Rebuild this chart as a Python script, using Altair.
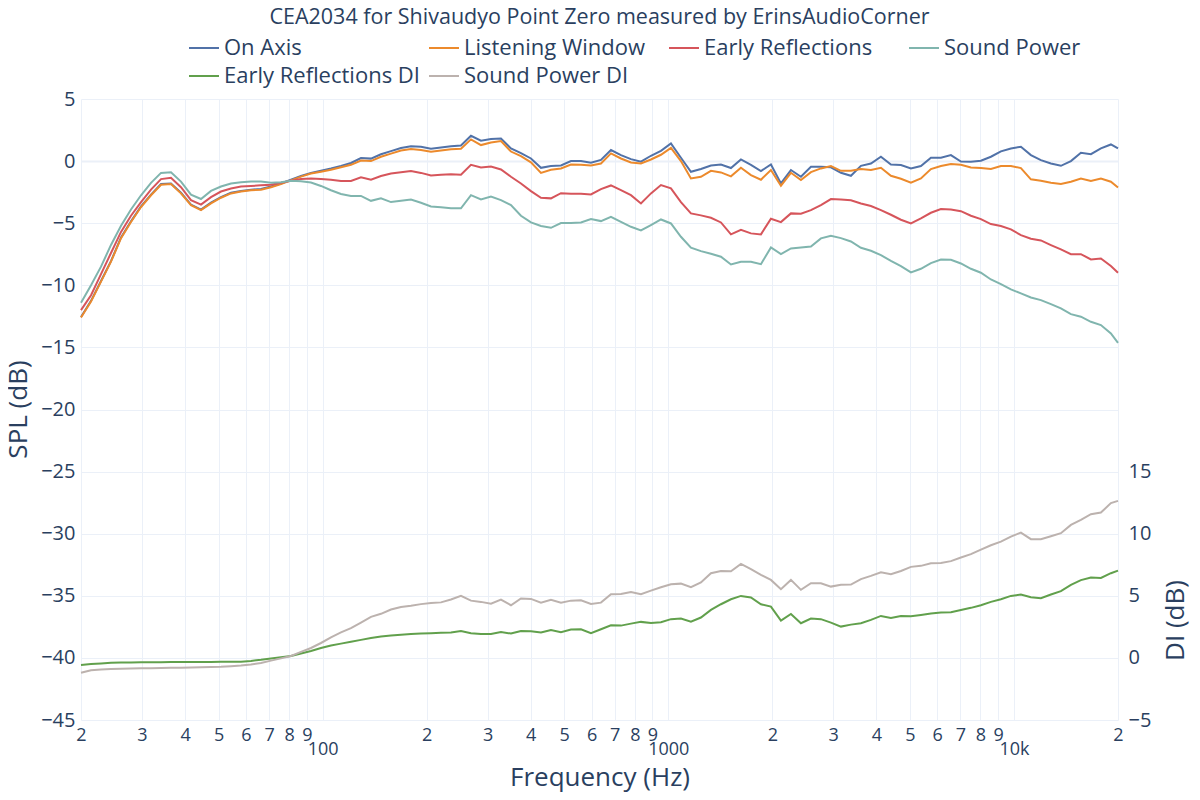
import altair as alt
import pandas as pd

# ---------------- data ----------------
FREQ = [
    20.0, 21.38, 22.85, 24.42, 26.11, 27.9, 29.83, 31.88, 34.08, 36.42,
    38.93, 41.61, 44.48, 47.54, 50.81, 54.31, 58.06, 62.05, 66.33, 70.9,
    75.78, 81.0, 86.58, 92.54, 98.91, 105.72, 113.0, 120.79, 129.11, 138.0,
    147.51, 157.67, 168.53, 180.14, 192.55, 205.81, 219.98, 235.13, 251.33, 268.64,
    287.15, 306.93, 328.07, 350.67, 374.81, 400.63, 428.22, 457.72, 489.25, 522.94,
    558.94, 597.44, 638.58, 682.57, 729.58, 779.83, 833.55, 890.96, 952.32, 1017.9,
    1088.0, 1162.9, 1243.0, 1328.7, 1420.2, 1518.0, 1622.5, 1734.3, 1853.7, 1981.4,
    2117.9, 2263.8, 2419.7, 2586.4, 2764.5, 2954.9, 3158.5, 3376.0, 3608.5, 3857.1,
    4122.6, 4406.6, 4710.1, 5034.5, 5381.2, 5751.9, 6148.0, 6571.5, 7024.1, 7507.9,
    8025.0, 8577.7, 9168.5, 9800.0, 10475, 11196, 11967, 12792, 13673, 14615,
    15621, 16697, 17847, 19076, 20000,
]

ON_AXIS = [
    -12.55, -11.25, -9.65, -8.05, -6.15, -4.85, -3.65, -2.7, -1.85, -1.8,
    -2.55, -3.5, -3.9, -3.35, -2.9, -2.55, -2.4, -2.3, -2.25, -2.05,
    -1.8, -1.5, -1.2, -0.95, -0.78, -0.6, -0.4, -0.15, 0.25, 0.2,
    0.55, 0.8, 1.05, 1.2, 1.15, 1.0, 1.1, 1.2, 1.25, 2.04,
    1.64, 1.77, 1.82, 1.02, 0.64, 0.21, -0.54, -0.4, -0.35, 0.0,
    0.0, -0.13, 0.1, 0.89, 0.48, 0.16, -0.05, 0.43, 0.83, 1.42,
    0.27, -0.86, -0.64, -0.35, -0.27, -0.56, 0.13, -0.3, -0.8, -0.27,
    -1.8, -0.72, -1.26, -0.46, -0.46, -0.5, -0.94, -1.18, -0.38, -0.19,
    0.35, -0.27, -0.32, -0.59, -0.4, 0.27, 0.27, 0.48, -0.03, -0.05,
    0.03, 0.35, 0.78, 1.02, 1.15, 0.48, 0.08, -0.19, -0.38, 0.0,
    0.67, 0.56, 1.02, 1.34, 1.02,
]

LISTENING_WINDOW = [
    -12.6, -11.3, -9.7, -8.1, -6.2, -4.9, -3.7, -2.75, -1.9, -1.85,
    -2.6, -3.55, -3.95, -3.4, -2.95, -2.6, -2.45, -2.35, -2.3, -2.1,
    -1.85, -1.55, -1.25, -1.0, -0.85, -0.7, -0.5, -0.3, 0.05, 0.0,
    0.35, 0.6, 0.85, 0.97, 0.9, 0.75, 0.85, 0.95, 1.0, 1.75,
    1.29, 1.5, 1.61, 0.77, 0.4, -0.1, -0.95, -0.7, -0.59, -0.27,
    -0.3, -0.35, -0.19, 0.62, 0.21, -0.11, -0.19, 0.13, 0.51, 1.07,
    0.0, -1.4, -1.26, -0.78, -0.91, -1.23, -0.54, -1.13, -1.5, -0.72,
    -1.98, -0.94, -1.53, -0.89, -0.59, -0.4, -0.78, -0.78, -0.64, -0.72,
    -0.54, -1.18, -1.42, -1.74, -1.4, -0.64, -0.4, -0.24, -0.3, -0.51,
    -0.56, -0.64, -0.4, -0.4, -0.56, -1.47, -1.58, -1.74, -1.85, -1.66,
    -1.4, -1.6, -1.4, -1.66, -2.12,
]

EARLY_REFLECTIONS = [
    -12.0, -10.8, -9.1, -7.4, -5.7, -4.4, -3.3, -2.3, -1.45, -1.35,
    -2.1, -3.15, -3.5, -2.9, -2.45, -2.2, -2.05, -2.0, -1.95, -1.9,
    -1.75, -1.58, -1.45, -1.4, -1.45, -1.5, -1.6, -1.6, -1.3, -1.5,
    -1.2, -1.0, -0.9, -0.8, -0.95, -1.15, -1.1, -1.05, -1.1, -0.3,
    -0.51, -0.43, -0.67, -1.26, -1.8, -2.42, -2.95, -3.0, -2.58, -2.63,
    -2.63, -2.68, -2.25, -1.96, -2.33, -2.74, -3.41, -2.6, -1.93, -2.2,
    -3.3, -4.21, -4.37, -4.56, -4.94, -5.9, -5.53, -5.82, -5.9, -4.64,
    -4.91, -4.21, -4.24, -3.95, -3.54, -3.06, -3.1, -3.16, -3.41, -3.62,
    -3.95, -4.32, -4.72, -5.02, -4.62, -4.16, -3.86, -3.89, -4.03, -4.4,
    -4.67, -5.07, -5.23, -5.5, -5.96, -6.25, -6.39, -6.76, -7.11, -7.49,
    -7.49, -7.92, -7.84, -8.45, -8.99,
]

SOUND_POWER = [
    -11.4, -10.0, -8.5, -6.75, -5.2, -3.9, -2.75, -1.75, -0.95, -0.9,
    -1.65, -2.7, -3.05, -2.4, -2.05, -1.8, -1.7, -1.65, -1.65, -1.75,
    -1.7, -1.58, -1.62, -1.72, -2.0, -2.35, -2.65, -2.8, -2.8, -3.2,
    -3.0, -3.3, -3.2, -3.1, -3.35, -3.65, -3.72, -3.8, -3.8, -2.74,
    -3.09, -2.85, -3.14, -3.54, -4.4, -4.94, -5.23, -5.37, -4.99, -4.99,
    -4.94, -4.67, -4.83, -4.48, -4.89, -5.29, -5.58, -5.15, -4.7, -5.02,
    -6.09, -6.97, -7.25, -7.46, -7.7, -8.32, -8.1, -8.1, -8.3, -6.95,
    -7.49, -7.03, -6.95, -6.87, -6.22, -6.01, -6.2, -6.47, -6.98, -7.22,
    -7.57, -8.03, -8.45, -8.96, -8.67, -8.21, -7.92, -7.95, -8.24, -8.67,
    -8.99, -9.53, -9.9, -10.33, -10.65, -10.98, -11.19, -11.51, -11.86, -12.32,
    -12.53, -12.94, -13.2, -13.87, -14.63,
]

ER_DI = [
    -0.58, -0.5, -0.45, -0.4, -0.38, -0.37, -0.36, -0.35, -0.35, -0.34,
    -0.34, -0.34, -0.33, -0.33, -0.32, -0.31, -0.3, -0.24, -0.15, -0.04,
    0.05, 0.15, 0.35, 0.55, 0.8, 1.0, 1.15, 1.3, 1.45, 1.6,
    1.72, 1.8, 1.87, 1.92, 1.96, 1.99, 2.02, 2.05, 2.17, 1.99,
    1.93, 1.93, 2.09, 1.96, 2.17, 2.15, 2.04, 2.25, 2.07, 2.28,
    2.31, 1.99, 2.31, 2.63, 2.6, 2.76, 2.9, 2.82, 2.87, 3.12,
    3.17, 2.92, 3.25, 3.86, 4.32, 4.72, 4.99, 4.86, 4.32, 4.13,
    3.0, 3.54, 2.79, 3.17, 3.12, 2.84, 2.52, 2.68, 2.79, 3.06,
    3.38, 3.22, 3.38, 3.35, 3.46, 3.57, 3.65, 3.68, 3.86, 4.03,
    4.24, 4.51, 4.72, 4.99, 5.1, 4.89, 4.81, 5.1, 5.37, 5.88,
    6.26, 6.47, 6.44, 6.82, 7.03,
]

SP_DI = [
    -1.2, -1.0, -0.93, -0.9, -0.88, -0.86, -0.84, -0.83, -0.81, -0.8,
    -0.79, -0.77, -0.76, -0.74, -0.72, -0.67, -0.62, -0.53, -0.41, -0.22,
    -0.04, 0.15, 0.48, 0.8, 1.2, 1.65, 2.05, 2.4, 2.85, 3.3,
    3.55, 3.9, 4.1, 4.2, 4.33, 4.42, 4.47, 4.7, 5.0, 4.61,
    4.51, 4.37, 4.7, 4.24, 4.78, 4.75, 4.45, 4.67, 4.45, 4.61,
    4.64, 4.35, 4.45, 5.13, 5.15, 5.31, 5.13, 5.42, 5.69, 5.93,
    5.98, 5.69, 6.07, 6.82, 7.0, 6.98, 7.57, 7.14, 6.68, 6.28,
    5.53, 6.28, 5.48, 6.01, 6.01, 5.74, 5.88, 5.9, 6.34, 6.6,
    6.9, 6.74, 7.0, 7.33, 7.41, 7.62, 7.65, 7.79, 8.08, 8.35,
    8.72, 9.07, 9.36, 9.77, 10.09, 9.56, 9.56, 9.8, 10.04, 10.71,
    11.11, 11.57, 11.7, 12.46, 12.64,
]

SPL_NAMES = ["On Axis", "Listening Window", "Early Reflections", "Sound Power"]
DI_NAMES = ["Early Reflections DI", "Sound Power DI"]
COLORS = ["#5172a8", "#ec8a2c", "#d6555b", "#80b5ae", "#61a04c", "#bcb2ae"]

X_TICKS = [20, 30, 40, 50, 60, 70, 80, 90, 100, 200, 300, 400, 500, 600, 700, 800, 900,
           1000, 2000, 3000, 4000, 5000, 6000, 7000, 8000, 9000, 10000, 20000]
SPL_TICKS = [-45, -40, -35, -30, -25, -20, -15, -10, -5, 0, 5]
DI_TICKS = [-5, 0, 5, 10, 15]

TITLE = "CEA2034 for Shivaudyo Point Zero measured by ErinsAudioCorner"
TEXT = "#2a3f5f"
GRID = "#ebf0f8"
FONT = "Open Sans"


def frame(names, series):
    rows = []
    for name, vals in zip(names, series):
        for f, v in zip(FREQ, vals):
            rows.append({"Freq": f, "Value": v, "Curve": name})
    return pd.DataFrame(rows)


spl_df = frame(SPL_NAMES, [ON_AXIS, LISTENING_WINDOW, EARLY_REFLECTIONS, SOUND_POWER])
di_df = frame(DI_NAMES, [ER_DI, SP_DI])

legend = alt.Legend(
    orient="none", legendX=107, legendY=-67, direction="horizontal", columns=4,
    title=None, symbolType="stroke", symbolSize=900, symbolStrokeWidth=2,
    labelFontSize=22, labelColor=TEXT, labelFont=FONT, labelOffset=4,
    gridAlign="all", columnPadding=5, rowPadding=1, padding=0, labelLimit=400,
)
color = alt.Color("Curve:N", scale=alt.Scale(domain=SPL_NAMES + DI_NAMES, range=COLORS), legend=legend)

label_expr = ("datum.value == 100 ? ['', '100'] : datum.value == 1000 ? ['', '1000'] : "
              "datum.value == 10000 ? ['', '10k'] : substring(toString(datum.value), 0, 1)")

x_axis = alt.Axis(
    values=X_TICKS, labelExpr=label_expr, title="Frequency (Hz)", grid=True, gridColor=GRID,
    gridWidth=1, ticks=False, tickSize=0, domain=False, labelFontSize=18, labelColor=TEXT,
    labelFont=FONT, labelPadding=6, labelLineHeight=14, labelOverlap=False, labelFlush=False,
    labelBound=False, titleFontSize=26, titleFontWeight="normal", titleColor=TEXT,
    titleFont=FONT, titleY=57, titleBaseline="middle",
)
x = alt.X("Freq:Q", scale=alt.Scale(type="log", domain=[20, 20000], nice=False), axis=x_axis)

spl_axis = alt.Axis(
    values=SPL_TICKS, title="SPL (dB)", grid=True, gridColor=GRID,
    gridWidth={"condition": {"test": "datum.value === 0", "value": 2}, "value": 1},
    ticks=False, tickSize=0, domain=False, labelFontSize=20, labelColor=TEXT, labelFont=FONT,
    labelPadding=6, labelOverlap=False, titleFontSize=26, titleFontWeight="normal",
    titleColor=TEXT, titleFont=FONT, titleX=-63, titleY=310, titleAngle=270,
    titleAlign="center", titleBaseline="middle",
)
di_axis = alt.Axis(
    orient="right", values=DI_TICKS, title="DI (dB)", grid=False, ticks=False, tickSize=0,
    domain=False, labelFontSize=20, labelColor=TEXT, labelFont=FONT, labelPadding=10,
    labelOverlap=False, titleFontSize=26, titleFontWeight="normal", titleColor=TEXT,
    titleFont=FONT, titleX=57, titleY=521, titleAngle=270, titleAlign="center",
    titleBaseline="middle",
)

spl = alt.Chart(spl_df).mark_line(strokeWidth=2).encode(
    x=x,
    y=alt.Y("Value:Q", scale=alt.Scale(domain=[-45, 5], nice=False, zero=False), axis=spl_axis),
    color=color,
)
di = alt.Chart(di_df).mark_line(strokeWidth=2).encode(
    x=x,
    y=alt.Y("Value:Q", scale=alt.Scale(domain=[-5, 45], nice=False, zero=False), axis=di_axis),
    color=color,
)

chart = (
    alt.layer(spl, di)
    .resolve_scale(y="independent")
    .properties(
        width=1037, height=621,
        title=alt.Title(TITLE, fontSize=21.5, fontWeight="normal", color=TEXT, font=FONT,
                        anchor="middle", frame="group", offset=4),
        autosize=alt.AutoSizeParams(type="none"),
        padding={"left": 73, "top": 91, "right": 74, "bottom": 72},
        background="white",
    )
    .configure(font=FONT)
    .configure_view(strokeWidth=0)
)

chart.save("out.html", embed_options={"renderer": "svg", "actions": False})
